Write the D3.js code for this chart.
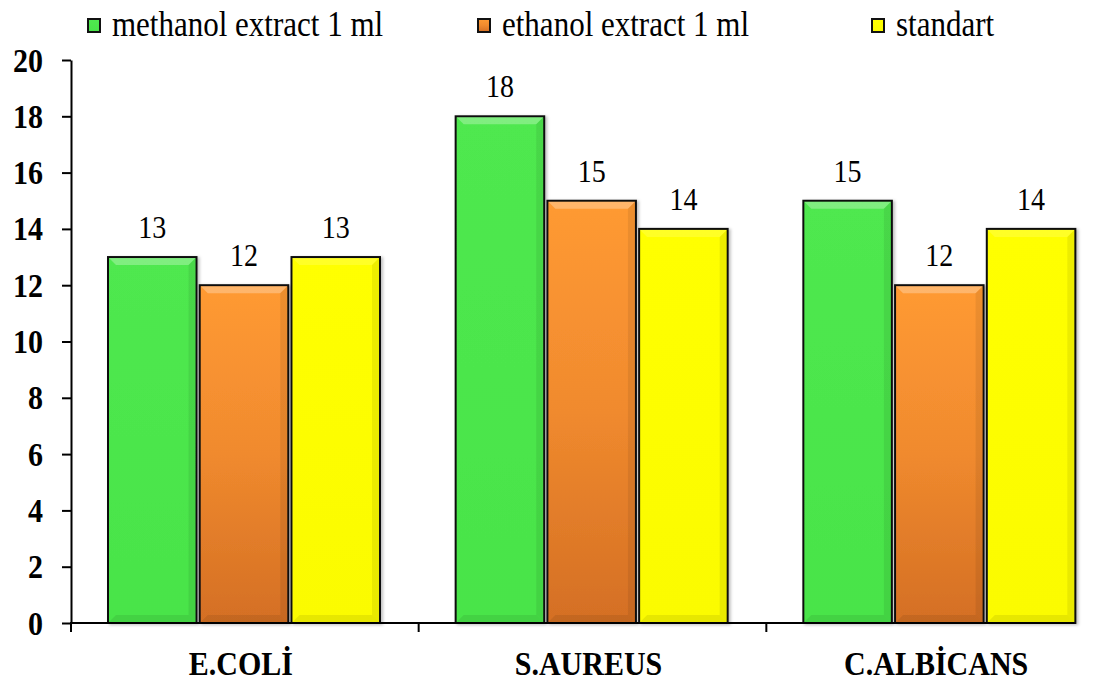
<!DOCTYPE html>
<html><head><meta charset="utf-8">
<script src="https://cdn.jsdelivr.net/npm/d3@7"></script>
<style>
html,body{margin:0;padding:0;background:#fff;}
svg{display:block;}
</style></head>
<body>
<svg id="chart" width="1103" height="681"></svg>
<script>
const categories = ["E.COLİ", "S.AUREUS", "C.ALBİCANS"];
const seriesNames = ["methanol extract 1 ml", "ethanol extract 1 ml", "standart"];
const methanol = [13, 18, 15];
const ethanol = [12, 15, 12];
const standart = [13, 14, 14];
const yTicks = [0, 2, 4, 6, 8, 10, 12, 14, 16, 18, 20];

const FONT = "'Liberation Serif'";
const svg = d3.select("#chart").attr("font-family", FONT);
const defs = svg.append("defs");
const SY = 1.13;

function squeeze(sel, size){
  sel.attr("font-size", size).each(function(){
    const w = this.getComputedTextLength();
    d3.select(this).attr("font-size", size*SY).attr("textLength", w).attr("lengthAdjust","spacingAndGlyphs");
  });
}

function vgrad(id, stops){
  const g = defs.append("linearGradient").attr("id", id).attr("x1",0).attr("y1",0).attr("x2",0).attr("y2",1);
  stops.forEach(s => g.append("stop").attr("offset", s[0]).attr("stop-color", s[1]));
}
vgrad("gGreen", [[0,"#4fe84f"],[1,"#49e449"]]);
vgrad("gOrange", [[0,"#ff9a33"],[0.5,"#f08a2e"],[1,"#d46f24"]]);
vgrad("gYellow", [[0,"#ffff00"],[1,"#fbfb00"]]);
const fills = ["url(#gGreen)", "url(#gOrange)", "url(#gYellow)"];

const f = defs.append("filter").attr("id","shadow").attr("x","-10%").attr("y","-10%").attr("width","130%").attr("height","130%");
f.append("feDropShadow").attr("dx",2).attr("dy",1).attr("stdDeviation",1.5).attr("flood-color","#000").attr("flood-opacity",0.25);

const x0 = d3.scaleBand().domain(categories).range([71, 1114]).paddingInner(0).paddingOuter(0);
const x1 = d3.scaleBand().domain([0,1,2]).range([37, 309]).paddingInner(0.035).paddingOuter(0);
const y = d3.scaleLinear().domain([0, 20]).range([623, 60]);

const data = categories.map((c, i) => ({cat: c, vals: [methanol[i], ethanol[i], standart[i]]}));

const groups = svg.append("g").selectAll("g").data(data).join("g")
  .attr("transform", d => `translate(${x0(d.cat)},0)`);

const bars = groups.selectAll("g.bar").data(d => d.vals.map((v, k) => ({v, k}))).join("g").attr("class","bar");
bars.append("rect")
  .attr("x", d => x1(d.k)).attr("y", d => y(d.v))
  .attr("width", x1.bandwidth()).attr("height", d => y(0) - y(d.v))
  .attr("fill", d => fills[d.k]).attr("stroke", "#111").attr("stroke-width", 2)
  .attr("filter","url(#shadow)");
const bev = 7;
bars.append("path")
  .attr("d", d => {
    const xa = x1(d.k)+1, xb = x1(d.k)+x1.bandwidth()-1, ya = y(d.v)+1;
    return `M${xa},${ya}L${xb},${ya}L${xb-bev},${ya+bev}L${xa+bev},${ya+bev}Z`;
  })
  .attr("fill", "#fff").attr("opacity", d => d.k===2 ? 0.15 : 0.28);
bars.append("path")
  .attr("d", d => {
    const xa = x1(d.k)+1, xb = x1(d.k)+x1.bandwidth()-1, ya = y(0)-1;
    return `M${xa},${ya}L${xb},${ya}L${xb-bev},${ya-bev}L${xa+bev},${ya-bev}Z`;
  })
  .attr("fill", "#000").attr("opacity", 0.08);
bars.append("path")
  .attr("d", d => {
    const xb = x1(d.k)+x1.bandwidth()-1, ya = y(d.v)+1, yb = y(0)-1;
    return `M${xb},${ya}L${xb},${yb}L${xb-bev},${yb-bev}L${xb-bev},${ya+bev}Z`;
  })
  .attr("fill", "#000").attr("opacity", 0.07);

bars.append("text")
  .attr("x", d => x1(d.k)+x1.bandwidth()/2).attr("y", d => y(d.v)-19)
  .attr("text-anchor","middle").attr("fill","#000")
  .attr("font-family", FONT)
  .text(d => d.v)
  .call(squeeze, 28);

const yAxis = svg.append("g").attr("transform","translate(71,0)")
  .call(d3.axisLeft(y).tickValues(yTicks).tickSize(9).tickSizeOuter(0).tickPadding(19));
yAxis.attr("font-family", FONT);
yAxis.select(".domain").attr("stroke","#000").attr("stroke-width",2);
yAxis.selectAll(".tick line").attr("stroke","#000").attr("stroke-width",2);
yAxis.selectAll(".tick text")
  .attr("font-family", FONT)
  .attr("font-weight","bold").attr("fill","#000")
  .attr("dy", null).attr("y", 11)
  .call(squeeze, 30);

const xAxis = svg.append("g").attr("transform","translate(0,623)")
  .call(d3.axisBottom(x0).tickSize(0).tickPadding(0).tickFormat(""));
xAxis.attr("font-family", FONT);
xAxis.select(".domain").remove();
xAxis.selectAll(".tick").remove();
xAxis.append("line").attr("x1",70).attr("x2",x0(categories[2]) + x1.range()[1]-1).attr("y1",0).attr("y2",0)
  .attr("stroke","#000").attr("stroke-width",2);
xAxis.selectAll("line.sep").data(categories).join("line").attr("class","sep")
  .attr("x1", d => x0(d)).attr("x2", d => x0(d)).attr("y1",0).attr("y2",9)
  .attr("stroke","#000").attr("stroke-width",2);
xAxis.selectAll("text.cat").data(categories).join("text").attr("class","cat")
  .attr("x", d => x0(d)+x0.bandwidth()/2 - 4).attr("y", 52)
  .attr("text-anchor","middle").attr("font-weight","bold").attr("fill","#000")
  .attr("font-family", FONT)
  .text(d => d)
  .call(squeeze, 30);

const legX = [88, 478, 872];
const leg = svg.append("g").selectAll("g").data(seriesNames).join("g")
  .attr("transform", (d,i) => `translate(${legX[i]},0)`);
leg.append("rect").attr("x",0).attr("y",19).attr("width",12).attr("height",13)
  .attr("fill",(d,i)=>fills[i]).attr("stroke","#111").attr("stroke-width",2);
leg.append("text")
  .attr("x", 24).attr("y", 36)
  .attr("font-family", FONT).attr("fill","#000").text(d => d)
  .call(squeeze, 31);
</script>
</body></html>
